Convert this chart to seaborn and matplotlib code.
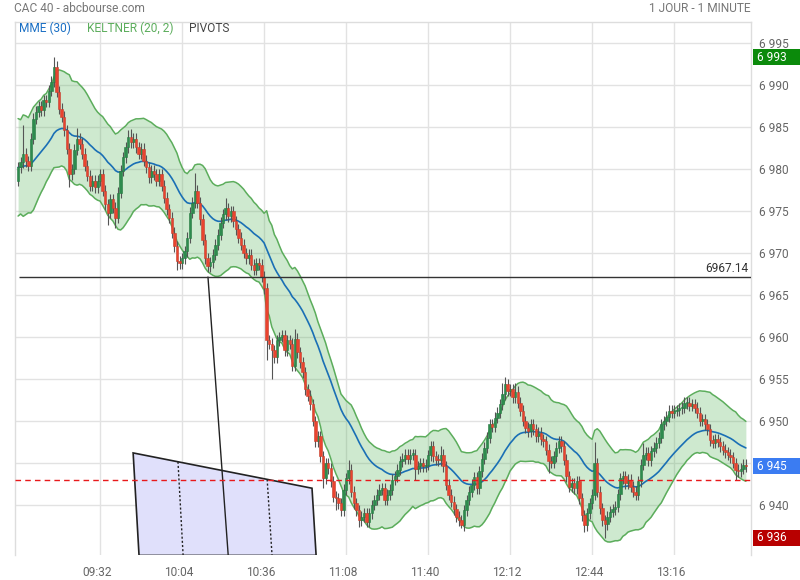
import matplotlib
matplotlib.use("Agg")  # no display
import matplotlib.pyplot as plt
import matplotlib.transforms as mtransforms
from matplotlib.patches import Polygon, Rectangle
import seaborn as sns
import numpy as np
import pandas as pd

# one candle per minute, minute 0 = 09:00
first_open = 6978.6
closes = [
    6980.2, 6980.8, 6981.8, 6980.9, 6980.4, 6983.6, 6986.0, 6986.8, 6987.5, 6987.0,
    6988.2, 6988.0, 6989.3, 6990.4, 6992.2, 6989.2, 6987.2, 6986.2, 6984.6, 6982.4,
    6979.4, 6980.0, 6982.3, 6983.6, 6983.0, 6981.8, 6980.4, 6979.2, 6978.0, 6978.6,
    6977.8, 6978.6, 6979.4, 6977.4, 6975.8, 6974.8, 6976.4, 6975.4, 6974.2, 6977.2,
    6979.8, 6981.4, 6982.6, 6983.8, 6983.2, 6983.6, 6982.6, 6981.8, 6982.4, 6981.0,
    6980.2, 6979.0, 6979.8, 6979.4, 6978.6, 6979.4, 6978.0, 6976.6, 6975.2, 6974.2,
    6972.4, 6970.8, 6969.0, 6968.8, 6969.4, 6970.2, 6971.8, 6974.8, 6976.0, 6977.4,
    6976.0, 6974.0, 6971.6, 6969.4, 6968.4, 6968.9, 6969.8, 6971.0, 6972.2, 6973.6,
    6974.6, 6975.3, 6974.4, 6975.0, 6973.8, 6972.8, 6971.8, 6971.0, 6970.0, 6969.4,
    6969.8, 6968.6, 6968.0, 6968.8, 6968.6, 6967.2, 6965.8, 6959.6, 6959.2, 6958.4,
    6957.6, 6959.6, 6960.0, 6960.2, 6958.4, 6959.6, 6959.2, 6956.6, 6959.8, 6958.2,
    6957.0, 6955.8, 6953.8, 6953.0, 6952.0, 6950.0, 6947.6, 6948.2, 6945.8, 6943.2,
    6945.0, 6944.4, 6942.8, 6941.0, 6940.8, 6940.2, 6939.4, 6941.8, 6943.2, 6944.2,
    6941.6, 6940.2, 6939.4, 6938.2, 6938.6, 6939.0, 6938.0, 6939.0, 6940.0, 6940.6,
    6941.2, 6941.8, 6942.0, 6940.6, 6941.2, 6941.8, 6943.0, 6943.4, 6944.2, 6945.2,
    6945.5, 6946.0, 6945.5, 6946.0, 6946.0, 6944.3, 6944.6, 6945.0, 6944.6, 6944.8,
    6945.9, 6947.0, 6945.8, 6945.4, 6945.3, 6946.0, 6944.6, 6942.4, 6941.2, 6940.4,
    6939.5, 6938.6, 6938.2, 6937.6, 6939.4, 6940.6, 6941.6, 6942.4, 6943.3, 6942.0,
    6944.0, 6945.5, 6946.8, 6948.0, 6949.6, 6949.3, 6950.4, 6951.0, 6952.0, 6953.2,
    6954.4, 6953.6, 6953.8, 6952.8, 6953.5, 6952.2, 6951.2, 6950.0, 6949.2, 6948.8,
    6949.6, 6949.0, 6948.2, 6948.6, 6947.8, 6947.6, 6946.6, 6945.2, 6945.0, 6945.8,
    6946.8, 6947.6, 6947.0, 6945.4, 6943.4, 6942.2, 6942.6, 6942.0, 6942.8, 6940.8,
    6938.8, 6937.6, 6939.0, 6940.2, 6941.2, 6945.0, 6941.6, 6939.6, 6938.2, 6937.7,
    6938.6, 6939.2, 6939.5, 6939.8, 6941.3, 6943.2, 6943.4, 6942.6, 6943.0, 6942.2,
    6941.6, 6941.2, 6942.8, 6944.8, 6946.0, 6946.2, 6945.3, 6946.4, 6946.8, 6947.4,
    6948.0, 6949.6, 6950.0, 6950.5, 6951.2, 6951.0, 6951.2, 6951.3, 6951.5, 6951.6,
    6952.1, 6952.2, 6951.8, 6952.0, 6951.6, 6951.0, 6950.0, 6950.2, 6949.6, 6949.0,
    6947.7, 6947.4, 6947.8, 6947.5, 6947.0, 6946.6, 6946.3, 6946.0, 6945.7, 6945.0,
    6944.2, 6944.0, 6944.3, 6944.8, 6944.6,
]
# the longer wicks that stand out (minute index -> price)
high_marks = {2: 6985.2, 14: 6993.3, 23: 6984.9, 43: 6984.6, 44: 6984.8, 69: 6979.5,
              81: 6976.5, 108: 6961.0, 129: 6945.3, 161: 6947.6, 165: 6947.0,
              189: 6954.5, 190: 6955.2, 194: 6954.5, 225: 6947.5, 244: 6947.4,
              260: 6952.9}
low_marks = {20: 6977.9, 35: 6973.3, 38: 6973.0, 62: 6968.0, 97: 6957.3, 99: 6955.0,
             119: 6942.0, 124: 6939.4, 133: 6937.4, 155: 6943.0, 169: 6939.8,
             173: 6937.3, 207: 6943.8, 221: 6936.8, 229: 6936.1, 280: 6943.0}
wick = 0.65

tick_minutes = [32, 64, 96, 128, 160, 192, 224, 256]
tick_labels = ["09:32", "10:04", "10:36", "11:08", "11:40", "12:12", "12:44", "13:16"]
price_ticks = [6940, 6945, 6950, 6955, 6960, 6965, 6970, 6975, 6980, 6985, 6990, 6995]

pivot_level = 6967.14
ref_close = 6943.0

# pivots drawing (minute, price)
pivot_zone_t = [44.9, 114.7, 116.3, 47.2]
pivot_zone_p = [6946.2, 6942.0, 6934.0, 6934.0]
pivot_dotted_t = [[62.4, 64.4], [97.2, 99.1]]
pivot_dotted_p = [[6945.15, 6934.0], [6943.05, 6934.0]]
pivot_solid_t = [74.1, 82.0]
pivot_solid_p = [6967.14, 6934.0]

# ---- build candles and indicators
n = len(closes)
minutes = np.arange(n)
opens = [first_open] + closes[:-1]
highs = [high_marks.get(i, max(o, c) + wick) for i, (o, c) in enumerate(zip(opens, closes))]
lows = [low_marks.get(i, min(o, c) - wick) for i, (o, c) in enumerate(zip(opens, closes))]
df = pd.DataFrame({"t": minutes, "open": opens, "high": highs, "low": lows, "close": closes})

df["mme"] = df["close"].ewm(span=30, adjust=False).mean()
mid = df["close"].ewm(span=20, adjust=False).mean()
prev = df["close"].shift(1).fillna(first_open)
tr = pd.concat([df["high"] - df["low"], (df["high"] - prev).abs(), (df["low"] - prev).abs()], axis=1).max(axis=1)
atr = tr.ewm(span=20, adjust=False).mean()
df["k_up"] = mid + 2 * atr
df["k_dn"] = mid - 2 * atr

sns.set_theme(style="white")
plt.rcParams["font.family"] = ["Roboto", "DejaVu Sans"]

fig = plt.figure(figsize=(8, 5.8), dpi=100)
ax = fig.add_axes([15 / 800, 1 - 555 / 580, 736 / 800, 533 / 580])

ax.set_xlim(-1.2, 286.0)
ax.set_ylim(6934.05, 6997.5)

# grid
for p in price_ticks:
    ax.axhline(p, color="#e2e2e2", lw=1, zorder=0)
for t in tick_minutes:
    ax.axvline(t, color="#e2e2e2", lw=1, zorder=0)

# keltner band
ax.fill_between(df["t"], df["k_dn"], df["k_up"], color="#4caf50", alpha=0.27, lw=0, zorder=1)
sns.lineplot(data=df, x="t", y="k_up", ax=ax, color="#5cad5c", lw=1.1, zorder=2)
sns.lineplot(data=df, x="t", y="k_dn", ax=ax, color="#5cad5c", lw=1.1, zorder=2)
sns.lineplot(data=df, x="t", y="mme", ax=ax, color="#1a6fb5", lw=1.2, zorder=3)

# candles
up = df["close"] >= df["open"]
body = (df["close"] - df["open"]).abs().clip(lower=0.15)
bottom = df[["open", "close"]].min(axis=1)
ax.vlines(df["t"], df["low"], df["high"], color="#555555", lw=0.8, zorder=4)
ax.bar(df["t"][up], body[up], bottom=bottom[up], width=0.95, color="#2e8b4e",
       edgecolor="#257a40", lw=0.4, zorder=5)
ax.bar(df["t"][~up], body[~up], bottom=bottom[~up], width=0.95, color="#ea432f",
       edgecolor="#c4402e", lw=0.4, zorder=5)

# pivots
ax.add_patch(Polygon(list(zip(pivot_zone_t, pivot_zone_p)), closed=True, facecolor="#e0e0fb",
                     edgecolor="#222", lw=1.2, zorder=3))
for tt, pp in zip(pivot_dotted_t, pivot_dotted_p):
    ax.plot(tt, pp, color="#222", lw=1, ls=(0, (1.5, 1.5)), zorder=3.5)
ax.plot(pivot_solid_t, pivot_solid_p, color="#222", lw=1, zorder=3.5)

ax.hlines(pivot_level, 0.4, 286.0, color="#333", lw=1, zorder=6)
ax.text(285.0, pivot_level + 0.25, f"{pivot_level:.2f}", ha="right", va="bottom",
        fontsize=8.6, color="#333", zorder=7)
ax.axhline(ref_close, color="#e8191b", lw=1, ls=(0, (4, 3)), zorder=6)

# axes styling
for side in ["left", "top", "right"]:
    ax.spines[side].set_color("#dddddd")
    ax.spines[side].set_linewidth(1)
ax.spines["bottom"].set_visible(False)
ax.set_xlabel("")
ax.set_ylabel("")
ax.set_xticks(tick_minutes, tick_labels)
ax.yaxis.tick_right()
ax.set_yticks(price_ticks, [f"{p:,}".replace(",", " ") for p in price_ticks])
ax.tick_params(axis="x", length=0, pad=8, labelsize=8.6, labelcolor="#666")
ax.tick_params(axis="y", length=0, pad=6, labelsize=8.6, labelcolor="#666")
shift = mtransforms.ScaledTranslation(-3 / 100, 0, fig.dpi_scale_trans)
for lbl in ax.get_xticklabels():
    lbl.set_transform(lbl.get_transform() + shift)

# price tags on the right axis
trans = mtransforms.blended_transform_factory(ax.transAxes, ax.transData)
tags = [(max(highs), "#0b8a0b"), (closes[-1], "#3b7cf2"), (min(lows), "#b80000")]
for val, col in tags:
    ax.add_patch(Rectangle((1.0025, val - 0.95), 0.07, 1.9, transform=trans,
                           facecolor=col, edgecolor="none", clip_on=False, zorder=8))
    ax.text(1.008, val, f"{round(val):,}".replace(",", " "), transform=trans, ha="left",
            va="center", fontsize=8.6, color="white", zorder=9, clip_on=False)

# header and legend
fig.text(14 / 800, 1 - 8 / 580, "CAC 40 - abcbourse.com", fontsize=8.6, color="#777", va="center")
fig.text(751 / 800, 1 - 8 / 580, "1 JOUR - 1 MINUTE", fontsize=8.6, color="#777", va="center", ha="right")
fig.text(19 / 800, 1 - 28 / 580, "MME (30)", fontsize=8.6, color="#1a6fc4", va="center")
fig.text(87 / 800, 1 - 28 / 580, "KELTNER (20, 2)", fontsize=8.6, color="#5cad5c", va="center")
fig.text(189 / 800, 1 - 28 / 580, "PIVOTS", fontsize=8.6, color="#444", va="center")

plt.savefig("out.png", dpi=100)
plt.close()
